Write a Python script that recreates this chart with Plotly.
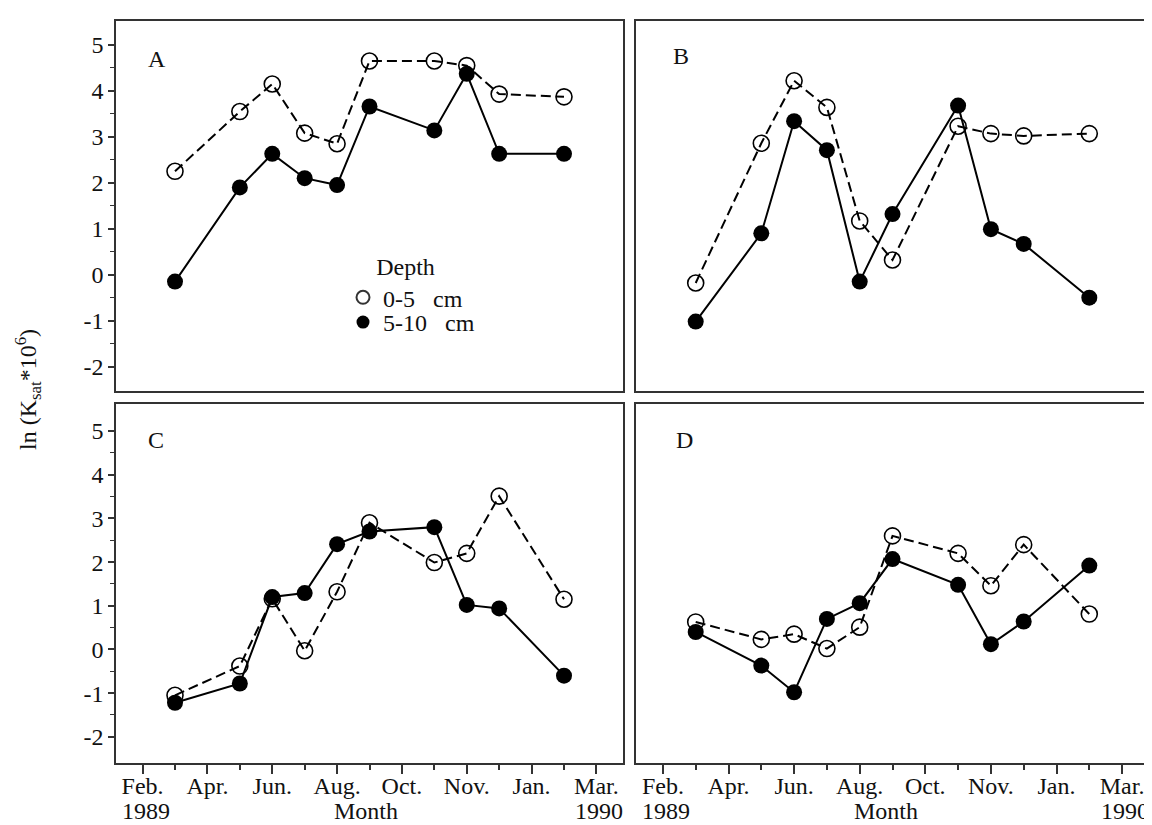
import plotly.graph_objects as go

# ---- data ----
month_labels = ["Feb.", "Apr.", "Jun.", "Aug.", "Oct.", "Nov.", "Jan.", "Mar."]
month_ticks = [0, 2, 4, 6, 8, 10, 12, 14]
minor_ticks = [1, 3, 5, 7, 9, 11, 13]
# sampling slots (in half-intervals between month ticks)
sample_slot = [1, 3, 4, 5, 6, 7, 9, 10, 11, 13]
y_ticks = [-2, -1, 0, 1, 2, 3, 4, 5]
y_tick_labels = ["-2", "-1", "0", "1", "2", "3", "4", "5"]

A_open = [2.25, 3.55, 4.15, 3.08, 2.85, 4.65, 4.65, 4.55, 3.93, 3.87]
A_fill = [-0.15, 1.90, 2.63, 2.10, 1.95, 3.66, 3.14, 4.37, 2.63, 2.63]
B_open = [-0.18, 2.86, 4.22, 3.64, 1.17, 0.32, 3.23, 3.07, 3.02, 3.07]
B_fill = [-1.02, 0.90, 3.34, 2.71, -0.15, 1.32, 3.68, 0.99, 0.67, -0.50]
C_open = [-1.05, -0.38, 1.16, -0.03, 1.32, 2.90, 1.99, 2.20, 3.51, 1.15]
C_fill = [-1.22, -0.78, 1.20, 1.29, 2.41, 2.70, 2.80, 1.02, 0.94, -0.60]
D_open = [0.63, 0.23, 0.35, 0.02, 0.51, 2.60, 2.20, 1.46, 2.40, 0.81]
D_fill = [0.40, -0.37, -0.98, 0.70, 1.06, 2.07, 1.48, 0.12, 0.64, 1.92]

panels = [("A", A_open, A_fill), ("B", B_open, B_fill),
          ("C", C_open, C_fill), ("D", D_open, D_fill)]

FONT = "Liberation Serif, Times New Roman, serif"
FS = 24
TXT = "#111"
W, H = 1152, 825
fig = go.Figure()

for i, (name, yo, yf) in enumerate(panels):
    sfx = "" if i == 0 else str(i + 1)
    fig.add_trace(go.Scatter(
        x=sample_slot, y=yo, mode="lines+markers", showlegend=False,
        xaxis="x" + sfx, yaxis="y" + sfx,
        line=dict(color="black", width=2, dash="10px,5px"),
        marker=dict(symbol="circle-open", size=16, color="black",
                    line=dict(width=1.6, color="black"))))
    fig.add_trace(go.Scatter(
        x=sample_slot, y=yf, mode="lines+markers", showlegend=False,
        xaxis="x" + sfx, yaxis="y" + sfx,
        line=dict(color="black", width=2),
        marker=dict(symbol="circle", size=16, color="black")))

# legend-only traces (one legend per row so row spacing matches)
fig.add_trace(go.Scatter(x=[None], y=[None], mode="markers", name="0-5\u00a0\u00a0\u00a0cm",
                         legend="legend",
                         marker=dict(symbol="circle-open", size=13, color="#333",
                                     line=dict(width=2, color="#333"))))
fig.add_trace(go.Scatter(x=[None], y=[None], mode="markers", name="5-10\u00a0\u00a0\u00a0cm",
                         legend="legend2",
                         marker=dict(symbol="circle", size=13, color="black")))

# geometry (pixels)
colx = [(108, 615), (628, 1141)]
rowy = [(13, 383), (396, 755)]
yranges = [[-2.53, 5.52], [-2.6, 5.62]]
xrange_ = [-0.82, 14.82]

layout = dict(width=W, height=H, margin=dict(l=0, r=0, t=0, b=0),
              paper_bgcolor="white", plot_bgcolor="white",
              font=dict(family=FONT, size=FS, color=TXT))

for i in range(4):
    r, c = divmod(i, 2)
    sfx = "" if i == 0 else str(i + 1)
    x0, x1 = colx[c]
    ytop, ybot = rowy[r]
    bottom = (r == 1)
    left = (c == 0)
    xa = dict(domain=[x0 / W, x1 / W], range=xrange_, anchor="y" + sfx,
              showgrid=False, zeroline=False, showline=True, mirror=True,
              linecolor="#333", linewidth=1.5, showticklabels=bottom,
              tickfont=dict(family=FONT, size=FS, color=TXT))
    if bottom:
        xa.update(tickmode="array", tickvals=month_ticks, ticktext=month_labels,
                  ticks="outside", ticklen=9, tickwidth=1.5, tickcolor="#333",
                  ticklabelstandoff=-9,
                  minor=dict(tickvals=minor_ticks, ticks="outside", ticklen=5,
                             tickwidth=1.5, tickcolor="#333"))
    else:
        xa.update(ticks="", tickvals=[])
    ya = dict(domain=[1 - ybot / H, 1 - ytop / H], range=yranges[r], anchor="x" + sfx,
              showgrid=False, zeroline=False, showline=True, mirror=True,
              linecolor="#333", linewidth=1.5, showticklabels=left,
              tickfont=dict(family=FONT, size=FS, color=TXT))
    if left:
        ya.update(tickmode="array", tickvals=y_ticks, ticktext=y_tick_labels,
                  ticks="outside", ticklen=6, tickwidth=1.5, tickcolor="#333",
                  minor=dict(tickvals=[v + 0.5 for v in y_ticks[:-1]], ticks="outside",
                             ticklen=4, tickwidth=1.2, tickcolor="#333"))
    else:
        ya.update(ticks="", tickvals=[])
    layout["xaxis" + sfx] = xa
    layout["yaxis" + sfx] = ya

fig.update_layout(**layout)


def txt(text, px, py, xa="center", ya="middle", angle=0):
    return dict(text=text, x=px / W, y=1 - py / H, xref="paper", yref="paper",
                xanchor=xa, yanchor=ya, textangle=angle, showarrow=False,
                font=dict(family=FONT, size=FS, color=TXT))


ann = []
letter_pos = [(149, 51), (673, 48), (148, 432), (676, 432)]
for (name, _, _), (px, py) in zip(panels, letter_pos):
    ann.append(txt(name, px, py))
for c in range(2):
    x0, x1 = colx[c]
    ann.append(txt("1989", x0 + 4, 803, xa="left"))
    ann.append(txt("Month", x0 + 250, 803))
    ann.append(txt("1990", x1 + 2, 803, xa="right"))
ann.append(txt("ln (K<sub>sat</sub>*10<sup>6</sup>)", 20, 382, angle=-90))

leg_common = dict(xanchor="left", yanchor="top", bgcolor="rgba(0,0,0,0)",
                  borderwidth=0, itemwidth=30,
                  font=dict(family=FONT, size=FS, color=TXT))
fig.update_layout(
    annotations=ann,
    showlegend=True,
    legend=dict(x=335 / W, y=1 - 236 / H,
                title=dict(text="Depth", side="top center",
                           font=dict(family=FONT, size=FS, color=TXT)),
                **leg_common),
    legend2=dict(x=335 / W, y=1 - 292 / H, **leg_common),
)

fig.write_html("out.html")
